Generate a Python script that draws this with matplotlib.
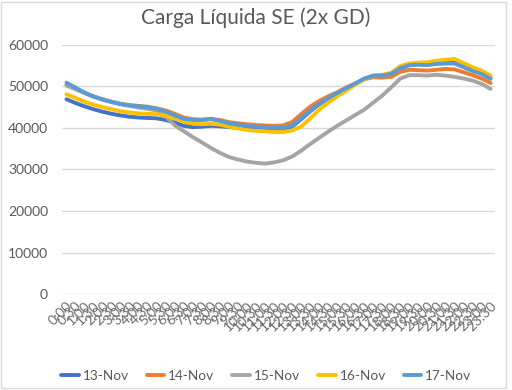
import matplotlib
matplotlib.use('Agg')
import matplotlib.pyplot as plt
from matplotlib.patches import Rectangle

# half-hour time labels, 0:00 .. 23:30
times = ['%d:%02d' % (h, m) for h in range(24) for m in (0, 30)]

nov13 = [46900, 46000, 45200, 44500, 43900, 43400, 43000, 42700, 42500, 42400, 42300, 41900,
         41300, 40500, 40200, 40300, 40500, 40400, 40200, 40000, 39900, 39800, 39700, 39600,
         39700, 40300, 42100, 44000, 45700, 47100, 48300, 49500, 50600, 51800, 52400, 52400,
         52800, 54200, 55200, 55400, 55400, 55800, 56000, 56000, 55000, 54000, 53200, 52200]
nov14 = [50400, 49500, 48500, 47600, 46900, 46300, 45800, 45500, 45300, 45100, 44700, 44200,
         43400, 42500, 42100, 42000, 42200, 41900, 41400, 41100, 40900, 40700, 40600, 40500,
         40600, 41400, 43300, 45100, 46500, 47600, 48600, 49700, 50700, 51700, 52200, 52100,
         52300, 53500, 54000, 53900, 53800, 54000, 54200, 54100, 53400, 52700, 51900, 50800]
nov15 = [50200, 49300, 48400, 47600, 46900, 46300, 45800, 45300, 44900, 44600, 44200, 42800,
         40600, 39200, 37800, 36500, 35200, 34000, 33000, 32400, 31900, 31600, 31400, 31700,
         32200, 33100, 34500, 36100, 37600, 39100, 40500, 41800, 43100, 44400, 46100, 47800,
         49800, 51900, 52700, 52700, 52600, 52800, 52600, 52300, 51900, 51400, 50600, 49400]
nov16 = [48100, 47200, 46300, 45600, 45000, 44500, 44000, 43700, 43500, 43400, 43300, 42900,
         42300, 41500, 41000, 40900, 41000, 40800, 40300, 39900, 39500, 39300, 39200, 39000,
         39000, 39400, 40300, 42300, 44400, 46100, 47600, 49000, 50400, 51700, 52600, 52800,
         53300, 54900, 55500, 55700, 55800, 56200, 56400, 56600, 55600, 54600, 53800, 52600]
nov17 = [50900, 49700, 48500, 47500, 46800, 46200, 45700, 45400, 45200, 45000, 44600, 43900,
         43000, 42200, 41900, 41900, 42100, 41700, 41100, 40800, 40500, 40300, 40200, 40000,
         40000, 40600, 42400, 44200, 45800, 47200, 48400, 49600, 50700, 51900, 52600, 52600,
         53000, 54400, 55100, 55200, 55100, 55400, 55500, 55500, 54600, 53700, 53000, 51800]

series = [('13-Nov', nov13, '#4472C4'), ('14-Nov', nov14, '#ED7D31'),
          ('15-Nov', nov15, '#A5A5A5'), ('16-Nov', nov16, '#FFC000'),
          ('17-Nov', nov17, '#5B9BD5')]

plt.rcParams['font.family'] = ['Lato', 'DejaVu Sans']
txt = '#595959'

fig = plt.figure(figsize=(5.12, 3.9), dpi=100)
ax = fig.add_axes([0.121, 0.246, 0.846, 0.639])

x = range(len(times))
for name, vals, col in series:
    ax.plot(x, vals, color=col, lw=2.8, label=name, solid_capstyle='round')

ax.set_ylim(0, 60000)
ax.set_yticks(range(0, 60001, 10000))
ax.set_xlim(-0.5, len(times) - 0.5)
ax.set_xticks(list(x))
ax.set_xticklabels(times, rotation=45, ha='right', rotation_mode='anchor', fontsize=10,
                   color='#6e6e6e')
ax.tick_params(axis='y', labelsize=10, labelcolor=txt, length=0, pad=10)
ax.tick_params(axis='x', length=0, pad=4)
ax.grid(axis='y', color='#D9D9D9', lw=1)
ax.set_axisbelow(True)
for s in ax.spines.values():
    s.set_visible(False)

fig.suptitle('Carga Líquida SE (2x GD)', fontsize=15, color=txt, y=0.98)

fig.legend(loc='center', bbox_to_anchor=(0.52, 0.036), ncol=5, frameon=False,
           fontsize=9.8, labelcolor=txt, handlelength=1.3, handletextpad=0.3,
           columnspacing=1.3)

fig.patches.append(Rectangle((0.002, 0.004), 0.986, 0.99, transform=fig.transFigure,
                             fill=False, edgecolor='#D9D9D9', lw=1))

fig.savefig('out.png', dpi=100)
